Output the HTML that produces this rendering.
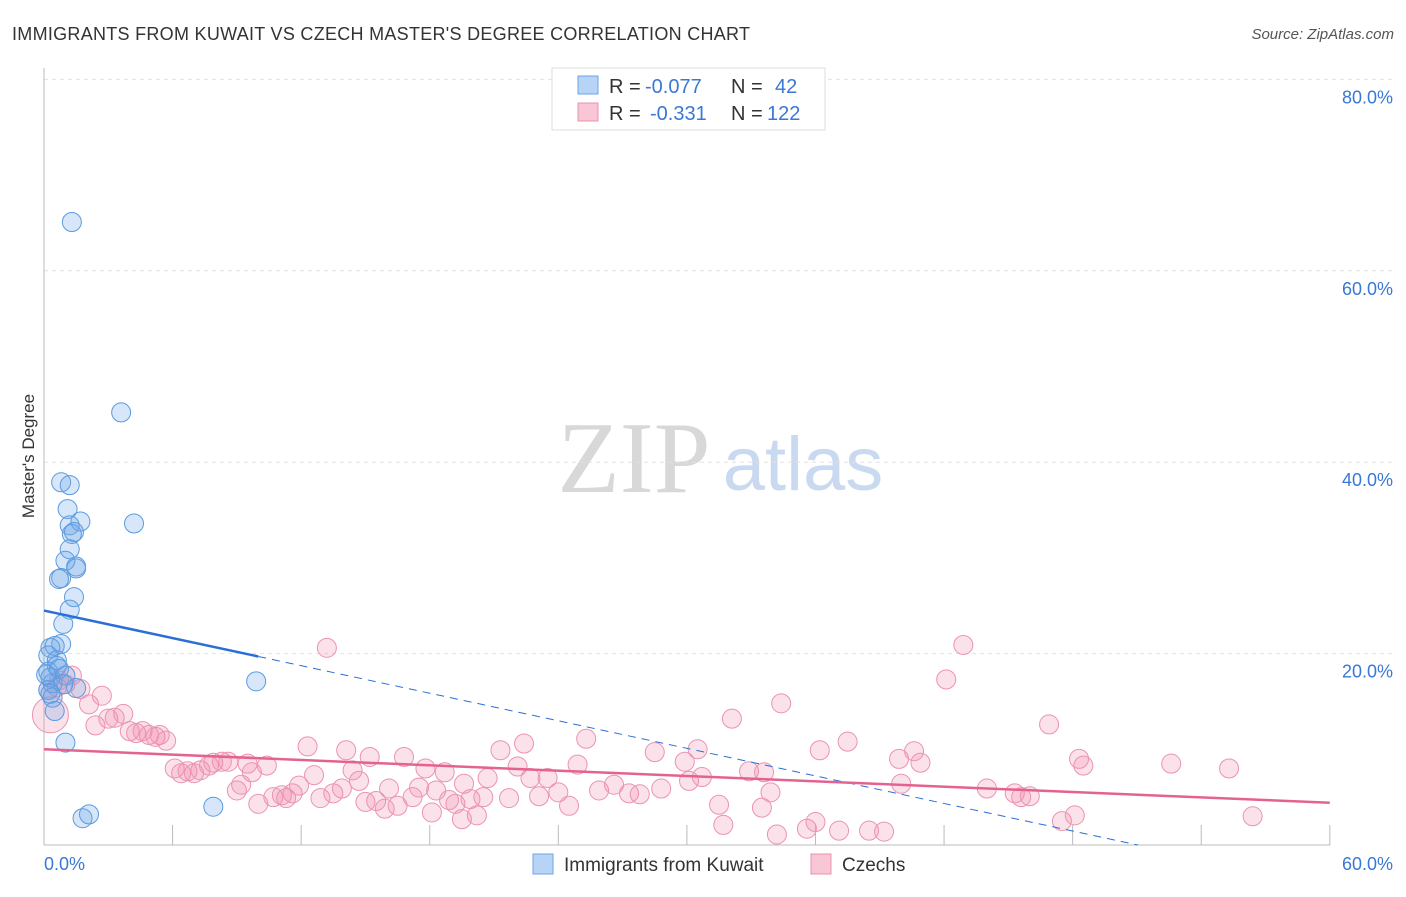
<!DOCTYPE html>
<html><head><meta charset="utf-8"><style>
body{margin:0;background:#fff;font-family:"Liberation Sans",sans-serif;}
</style></head><body>
<svg id="c" width="1406" height="892" xmlns="http://www.w3.org/2000/svg">
<text x="12" y="40" font-size="18" fill="#333" textLength="738" lengthAdjust="spacing">IMMIGRANTS FROM KUWAIT VS CZECH MASTER'S DEGREE CORRELATION CHART</text>
<text x="1394" y="39" font-size="15" fill="#555" font-style="italic" text-anchor="end">Source: ZipAtlas.com</text>
<g>
<text x="634" y="492" font-size="102" fill="#d8d8d8" font-family="Liberation Serif,serif" text-anchor="middle">ZIP</text>
<text x="803" y="490" font-size="76" fill="#c9daf0" text-anchor="middle">atlas</text>
</g>
<text transform="translate(34,456) rotate(-90)" font-size="17" fill="#333" text-anchor="middle">Master's Degree</text>
<g id="grid"></g><g id="marks"></g>
<g>
<rect x="552" y="68" width="273" height="62" fill="#fff" stroke="#ddd"/>
<rect x="578" y="76" width="20" height="18" fill="#b7d3f5" stroke="#6ea5e6"/>
<text x="609" y="93" font-size="20" fill="#333">R =</text>
<text x="645" y="93" font-size="20" fill="#3a78d4">-0.077</text>
<text x="731" y="93" font-size="20" fill="#333">N =</text>
<text x="775" y="93" font-size="20" fill="#3a78d4">42</text>
<rect x="578" y="103" width="20" height="18" fill="#f9c6d5" stroke="#ec93b0"/>
<text x="609" y="120" font-size="20" fill="#333">R =</text>
<text x="650" y="120" font-size="20" fill="#3a78d4">-0.331</text>
<text x="731" y="120" font-size="20" fill="#333">N =</text>
<text x="767" y="120" font-size="20" fill="#3a78d4">122</text>
</g>
<g>
<rect x="533" y="854" width="20" height="20" fill="#b7d3f5" stroke="#6ea5e6"/>
<text x="564" y="871" font-size="19" fill="#333">Immigrants from Kuwait</text>
<rect x="811" y="854" width="20" height="20" fill="#f9c6d5" stroke="#ec93b0"/>
<text x="842" y="871" font-size="19" fill="#333">Czechs</text>
</g>
</svg>
<script>
const yTicks=[20,40,60,80];
const yTickLabels=["20.0%","40.0%","60.0%","80.0%"];
const xTickLabels=["0.0%","60.0%"];
const kuwait=[[1.3,65.1],[3.6,45.2],[0.8,37.9],[1.2,37.6],[1.1,35.1],[1.2,33.4],[1.7,33.8],[4.2,33.6],[1.3,32.5],[1.4,32.7],[1.2,30.9],[1.0,29.7],[1.5,29.1],[1.5,28.9],[0.8,27.9],[0.7,27.8],[1.4,25.9],[1.2,24.6],[0.9,23.1],[0.8,21.0],[0.3,20.6],[0.5,20.8],[0.2,19.8],[0.6,19.3],[0.6,18.7],[0.2,18.1],[1.0,17.7],[0.4,16.9],[1.5,16.4],[0.2,16.2],[0.4,15.4],[0.5,14.0],[1.0,10.7],[9.9,17.1],[7.9,4.0],[1.8,2.8],[2.1,3.2],[0.3,17.5],[0.7,18.4],[0.1,17.8],[0.9,16.8],[0.3,15.8]];
const czechs=[[13.2,20.6],[42.9,20.9],[42.1,17.3],[34.4,14.8],[32.1,13.2],[46.9,12.6],[2.7,15.6],[2.1,14.7],[1.7,16.3],[1.0,16.8],[1.3,17.7],[0.6,16.5],[0.2,16.2],[0.7,17.2],[2.4,12.5],[3.0,13.2],[3.3,13.3],[3.7,13.7],[4.0,11.9],[4.3,11.7],[4.6,11.9],[4.9,11.5],[5.2,11.3],[5.4,11.5],[5.7,10.9],[6.1,8.0],[6.4,7.5],[6.7,7.7],[7.0,7.5],[7.3,7.8],[7.7,8.3],[7.9,8.6],[8.3,8.7],[8.6,8.7],[9.0,5.7],[9.2,6.3],[9.5,8.5],[9.7,7.6],[10.4,8.3],[10.0,4.3],[10.7,5.0],[11.1,5.2],[11.3,4.9],[11.6,5.4],[11.9,6.2],[12.3,10.3],[12.6,7.3],[12.9,4.9],[13.5,5.4],[13.9,5.9],[14.1,9.9],[14.4,7.8],[14.7,6.7],[15.0,4.5],[15.2,9.2],[15.5,4.6],[15.9,3.8],[16.1,5.9],[16.5,4.1],[16.8,9.2],[17.2,5.0],[17.5,6.0],[17.8,8.0],[18.1,3.4],[18.3,5.7],[18.7,7.6],[18.9,4.7],[19.2,4.3],[19.5,2.7],[19.6,6.4],[19.9,4.8],[20.2,3.1],[20.5,5.0],[20.7,7.0],[21.3,9.9],[21.7,4.9],[22.1,8.2],[22.4,10.6],[22.7,7.0],[23.1,5.1],[23.5,7.0],[24.0,5.5],[24.5,4.1],[24.9,8.4],[25.3,11.1],[25.9,5.7],[26.6,6.3],[27.3,5.4],[27.8,5.3],[28.5,9.7],[28.8,5.9],[29.9,8.7],[30.1,6.7],[30.5,10.0],[30.7,7.1],[31.5,4.2],[31.7,2.1],[32.9,7.7],[33.5,3.9],[33.6,7.6],[33.9,5.5],[34.2,1.1],[35.6,1.7],[36.0,2.4],[36.2,9.9],[37.1,1.5],[37.5,10.8],[38.5,1.5],[39.2,1.4],[39.9,9.0],[40.0,6.4],[40.6,9.8],[40.9,8.6],[44.0,5.9],[45.3,5.4],[45.6,5.0],[46.0,5.1],[47.5,2.5],[48.1,3.1],[48.3,9.0],[48.5,8.3],[52.6,8.5],[55.3,8.0],[56.4,3.0]];
const czechBig=[0.3,13.6];
const kuwaitTrend=[24.5,-0.48];
const czechTrend=[10.0,-0.093];
const NS="http://www.w3.org/2000/svg";
const X=v=>44+v*21.43, Y=v=>845-v*9.57;
function mk(p,t,a){const e=document.createElementNS(NS,t);for(const k in a)e.setAttribute(k,a[k]);p.appendChild(e);return e;}
const g=document.getElementById('grid'),m=document.getElementById('marks');
yTicks.forEach((t,i)=>{
 const l=mk(g,'line',{x1:44,x2:1394,y1:Y(t),y2:Y(t),stroke:'#e2e2e2','stroke-dasharray':'4,4'});
 
 
 const tx=mk(g,'text',{x:1393,y:Y(t)+24,'font-size':18,fill:'#3a78d4','text-anchor':'end'});
 tx.textContent=yTickLabels[i];
 
 
});
mk(g,'line',{x1:44,x2:44,y1:68,y2:845,stroke:'#bbb'});
mk(g,'line',{x1:44,x2:1330,y1:845,y2:845,stroke:'#bbb'});
for(let i=0;i<=10;i++){const t=mk(g,'line',{x1:X(i*6),x2:X(i*6),y1:825,y2:845,stroke:'#bbb'});
 
 }
[[0,'start',44],[60,'end',1393]].forEach((d,i)=>{const t=mk(g,'text',{x:d[2],y:870,'font-size':18,fill:'#3a78d4','text-anchor':d[1]});t.textContent=xTickLabels[i];
 
 });
czechs.forEach(p=>{const c=mk(m,'circle',{cx:X(p[0]),cy:Y(p[1]),r:9.5,fill:'rgba(240,140,170,0.25)',stroke:'#ec93b0'});
 
 });
const bg=mk(m,'circle',{cx:X(czechBig[0]),cy:Y(czechBig[1]),r:18,fill:'rgba(240,140,170,0.25)',stroke:'#ec93b0'});


kuwait.forEach(p=>{const c=mk(m,'circle',{cx:X(p[0]),cy:Y(p[1]),r:9.5,fill:'rgba(110,165,230,0.28)',stroke:'#5b9be0'});
 
 });
const kx1=10,kx2=-kuwaitTrend[0]/kuwaitTrend[1];
const k1=mk(m,'line',{x1:X(0),y1:Y(kuwaitTrend[0]),x2:X(kx1),y2:Y(kuwaitTrend[0]+kuwaitTrend[1]*kx1),stroke:'#2a6fd6','stroke-width':2.5});


const k2=mk(m,'line',{x1:X(kx1),y1:Y(kuwaitTrend[0]+kuwaitTrend[1]*kx1),x2:X(kx2),y2:Y(0),stroke:'#2a6fd6','stroke-width':1,'stroke-dasharray':'8,6'});


const c1=mk(m,'line',{x1:X(0),y1:Y(czechTrend[0]),x2:X(60),y2:Y(czechTrend[0]+czechTrend[1]*60),stroke:'#e4628f','stroke-width':2.5});


</script>
</body></html>
